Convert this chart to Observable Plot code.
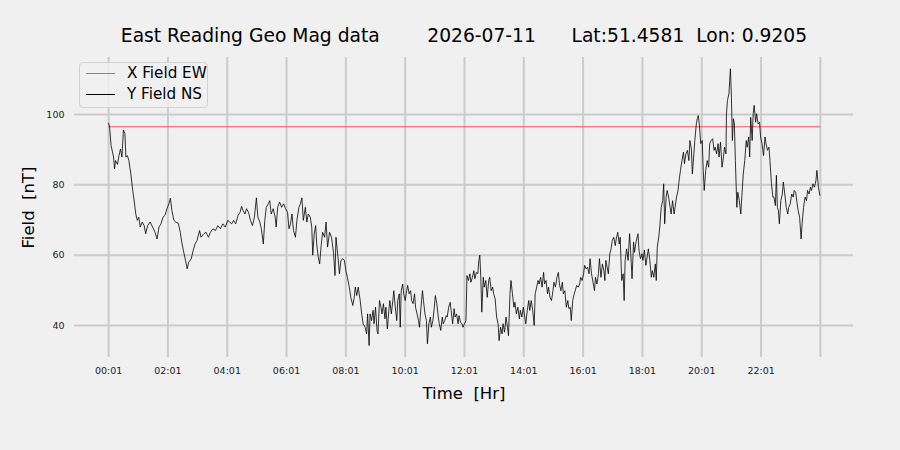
<!DOCTYPE html>
<html><head><meta charset="utf-8">
<script src="https://cdn.jsdelivr.net/npm/d3@7"></script>
<script src="https://cdn.jsdelivr.net/npm/@observablehq/plot@0.6"></script>
<style>
html,body{margin:0;padding:0;background:#f0f0f0;}
#wrap{position:relative;width:900px;height:450px;overflow:hidden;}
svg text{white-space:pre;}
.legend{position:absolute;left:79px;top:62px;width:129px;height:46px;border:1px solid #d2d2d2;border-radius:4px;background:rgba(240,240,240,0.8);box-sizing:border-box;font-family:"DejaVu Sans";font-size:15.2px;color:#000;}
.legend .sw{position:absolute;left:6px;width:29px;height:0;border-top:1px solid;}
.legend .lb{position:absolute;left:47px;line-height:16px;white-space:pre;}
</style>
</head><body>
<div id="wrap"></div>
<script>
const titleText = "East Reading Geo Mag data        2026-07-11      Lat:51.4581  Lon: 0.9205";
const xAxisLabel = "Time  [Hr]";
const yAxisLabel = "Field  [nT]";
const seriesNames = ["X Field EW", "Y Field NS"];
const seriesColors = ["#ff5050", "#000000"];

// minutes after 00:01
const tickMinutes = [0,120,240,360,480,600,720,840,960,1080,1200,1320,1440];
const tickLabels = ["00:01","02:01","04:01","06:01","08:01","10:01","12:01","14:01","16:01","18:01","20:01","22:01",""];
const yTicks = [40,60,80,100];

// X Field EW (flat)
const xFieldMinutes = [0, 1439];
const xFieldValues = [96.5, 96.5];

// Y Field NS
const yFieldMinutes = [
0,2,5,10,12,14,18,21,24,27,30,33,35,38,41,45,48,52,55,58,61,64,68,72,75,79,84,89,94,98,102,106,110,114,118,122,125,128,132,136,141,145,148,152,155,159,162,167,171,175,179,184,187,193,197,202,206,211,216,221,226,231,236,241,245,
249,253,257,262,266,269,272,276,279,283,287,291,295,299,302,306,309,313,316,319,323,326,329,333,337,339,342,346,350,354,358,362,365,368,371,374,378,381,385,388,391,394,398,401,404,408,411,413,416,419,421,424,427,430,433,437,440,443,447,451,455,458,460,464,467,470,474,477,480,483,487,490,494,497,
499,502,505,509,512,515,519,522,524,527,529,532,535,537,540,543,545,548,551,553,556,559,561,564,567,569,572,575,577,580,583,585,588,590,592,595,597,600,603,605,608,611,613,616,619,621,624,627,629,632,635,637,640,643,645,648,651,653,656,659,661,664,667,669,672,675,677,680,683,685,688,691,693,696,699,701,704,707,709,712,715,717,720,723,725,728,731,733,736,739,741,744,747,749,751,
753,755,758,760,763,766,769,771,774,777,779,782,785,788,790,793,796,798,801,804,807,809,812,814,817,820,822,825,828,831,833,836,839,841,844,847,850,852,855,858,861,863,866,869,871,874,877,880,882,885,888,890,893,896,899,901,904,907,910,912,915,918,920,923,926,929,931,934,936,939,942,944,947,950,953,955,958,961,963,966,969,972,974,977,980,983,985,988,991,993,996,999,1002,1004,1006,
1011,1014,1016,1019,1022,1025,1027,1030,1033,1035,1038,1041,1043,1045,1048,1051,1054,1056,1059,1062,1064,1067,1071,1073,1076,1079,1081,1084,1087,1090,1092,1095,1098,1100,1103,1106,1108,1110,1113,1115,1118,1121,1123,1125,1128,1130,1133,1136,1138,1141,1144,1146,1149,1152,1155,1157,1160,1163,1165,1168,1171,1174,1176,1179,1181,1184,1186,1189,1191,1193,1195,1198,1201,1203,1205,1208,1211,1214,1216,1219,1222,1225,1227,1230,1233,1235,1238,1241,1243,1246,1249,
1250,1252,1255,1258,1260,1262,1264,1266,1268,1271,1273,1276,1279,1281,1284,1287,1290,1292,1295,1297,1299,1302,1304,1306,1309,1311,1314,1317,1319,1322,1325,1328,1330,1333,1336,1338,1341,1344,1346,1349,1351,1353,1355,1357,1360,1363,1365,1368,1371,1374,1376,1379,1382,1385,1387,1390,1393,1395,1398,1401,1403,1406,1409,1412,1414,1417,1420,1422,1425,1428,1431,1433,1436,1439
];
const yFieldValues = [
97.5,96.4,91.2,87.9,84.5,86.9,85.8,88.3,90.2,87.9,95.6,94.5,87.9,88.3,86.9,83.1,79.3,75.1,71.7,69.9,70.8,68.0,69.4,68.4,66.1,68.4,69.4,68.0,66.5,64.6,68.0,68.9,70.8,71.3,73.2,74.6,76.2,72.7,69.9,69.4,69.1,66.5,63.7,60.8,58.9,56.1,58.0,58.9,61.3,63.2,64.2,67.0,65.1,66.1,66.5,65.1,66.5,67.5,67.0,68.4,67.5,68.9,68.0,69.9,69.4,
68.9,69.9,68.9,71.3,72.2,73.9,72.7,71.7,73.2,72.2,69.9,68.4,70.8,76.3,70.8,69.4,67.5,63.2,69.9,73.6,74.6,75.5,71.7,73.2,70.8,68.0,73.6,75.1,73.6,74.6,73.2,72.2,67.5,68.9,71.7,67.0,65.1,69.9,73.6,74.6,76.3,69.9,73.6,69.4,71.7,70.8,68.0,60.0,66.1,68.4,63.2,59.5,57.5,62.7,66.5,65.1,69.4,62.3,66.5,65.1,60.8,54.2,65.1,59.5,54.7,58.5,59.0,58.5,55.6,53.7,50.9,48.0,45.7,48.0,
50.9,48.5,50.9,47.1,43.3,40.5,39.5,37.6,43.3,34.3,43.3,41.4,44.3,40.5,45.2,38.6,37.6,47.1,45.2,43.3,46.2,41.9,45.2,39.0,44.3,47.1,43.3,47.1,49.9,45.2,41.4,47.1,49.0,39.5,49.9,51.8,49.0,47.1,49.9,51.4,49.0,49.9,47.1,46.2,49.0,45.2,43.3,41.4,39.5,45.2,49.9,47.1,43.3,41.4,34.8,40.5,42.4,39.5,41.4,45.2,48.5,46.2,42.4,40.5,38.6,42.4,40.5,41.4,42.8,42.4,45.2,46.6,44.3,40.5,44.8,42.4,43.3,40.5,42.8,40.9,40.5,39.5,40.5,41.4,54.2,52.8,54.7,52.3,53.7,55.6,53.3,55.1,54.7,58.5,60.0,
53.7,43.8,53.7,50.9,52.8,48.0,52.8,53.7,49.9,50.9,49.0,47.6,42.4,40.5,35.7,39.5,37.6,40.5,38.1,42.4,39.5,37.1,49.0,52.8,49.0,45.2,46.6,43.3,45.2,41.9,44.3,42.4,45.2,43.3,40.5,44.3,47.1,44.3,47.1,44.3,40.0,49.0,50.9,52.8,51.8,53.7,50.9,55.1,51.8,52.8,49.0,50.9,48.0,47.1,49.9,52.3,50.9,53.7,55.1,51.8,49.9,52.3,49.0,49.9,45.2,47.1,44.8,45.2,41.4,47.1,49.0,49.9,51.4,50.9,51.8,53.7,52.8,54.7,57.1,56.1,56.6,54.7,59.0,54.7,52.3,49.9,53.7,51.8,54.7,59.0,53.7,57.5,55.6,52.8,58.5,
54.7,60.4,61.4,64.2,65.1,62.7,64.6,66.5,63.2,65.1,52.8,54.7,47.1,58.5,61.8,58.5,66.1,61.4,53.3,63.7,60.8,63.7,66.1,61.4,59.0,60.4,58.5,61.4,57.1,60.0,61.8,58.5,53.7,55.6,53.7,57.5,52.8,62.3,65.1,68.0,73.6,75.5,80.3,68.9,76.5,78.4,76.5,73.6,71.7,75.5,71.7,73.6,76.5,78.4,82.2,84.1,86.9,89.3,86.0,88.8,89.8,86.9,92.6,90.2,83.1,88.8,92.6,97.3,98.8,99.7,97.3,91.7,92.6,84.1,78.4,84.1,86.9,85.0,91.7,92.6,93.1,89.8,90.7,88.8,91.7,87.9,92.1,85.0,86.9,90.7,88.8,
100.2,104.0,105.9,113.0,104.9,92.6,98.8,97.3,86.9,73.6,77.9,75.5,71.7,76.5,83.1,86.9,92.6,90.7,93.6,87.9,99.2,92.6,100.2,102.6,97.8,100.2,97.3,97.8,93.6,91.7,88.3,93.6,91.7,89.8,90.7,86.9,80.3,76.5,76.5,74.1,82.7,73.6,72.7,68.9,75.5,77.4,80.8,77.4,73.6,71.7,73.6,74.6,77.4,76.5,78.4,77.9,74.6,72.7,70.8,64.6,68.9,73.6,76.5,75.5,78.4,77.4,79.3,78.4,80.3,79.3,81.2,84.1,79.3,77.0
];

const xData = xFieldMinutes.map((t, i) => ({t, v: xFieldValues[i]}));
const yData = yFieldMinutes.map((t, i) => ({t, v: yFieldValues[i]}));
const labelByMinute = new Map(tickMinutes.map((m, i) => [m, tickLabels[i]]));

const font = "DejaVu Sans";
const plot = Plot.plot({
  width: 900, height: 450,
  marginLeft: 74, marginRight: 47, marginTop: 57, marginBottom: 93,
  style: {background: "#f0f0f0", fontFamily: font, fontSize: "9.5px", color: "#222", overflow: "visible"},
  x: {domain: [-69, 1507], ticks: tickMinutes, tickFormat: d => labelByMinute.get(d), tickSize: 0, tickPadding: 10, label: null},
  y: {domain: [30.9, 116.2], ticks: yTicks, tickSize: 0, tickPadding: 10, label: null},
  marks: [
    Plot.gridX(tickMinutes, {stroke: "#cbcbcb", strokeOpacity: 1, strokeWidth: 2}),
    Plot.gridY(yTicks, {stroke: "#cbcbcb", strokeOpacity: 1, strokeWidth: 2}),
    Plot.line(xData, {x: "t", y: "v", stroke: seriesColors[0], strokeWidth: 1}),
    Plot.line(yData, {x: "t", y: "v", stroke: seriesColors[1], strokeWidth: 0.8}),
    Plot.text([titleText], {text: d => d, frameAnchor: "top", dy: -21, textAnchor: "middle", lineAnchor: "middle", fontSize: 18.7, fill: "#000"}),
    Plot.text([xAxisLabel], {text: d => d, frameAnchor: "bottom", dy: 36, textAnchor: "middle", lineAnchor: "middle", fontSize: 16.5, fill: "#000"}),
    Plot.text([yAxisLabel], {text: d => d, frameAnchor: "left", dx: -46, rotate: -90, textAnchor: "middle", lineAnchor: "middle", fontSize: 16.5, fill: "#000"})
  ]
});
const wrap = document.getElementById("wrap");
wrap.appendChild(plot);

const legend = document.createElement("div");
legend.className = "legend";
seriesNames.forEach((name, i) => {
  const top = 10 + i * 21;
  const sw = document.createElement("div");
  sw.className = "sw";
  sw.style.top = top + "px";
  sw.style.borderTopColor = seriesColors[i];
  const lb = document.createElement("div");
  lb.className = "lb";
  lb.style.top = (top - 8) + "px";
  lb.textContent = name;
  legend.appendChild(sw);
  legend.appendChild(lb);
});
wrap.appendChild(legend);
</script>
</body></html>
